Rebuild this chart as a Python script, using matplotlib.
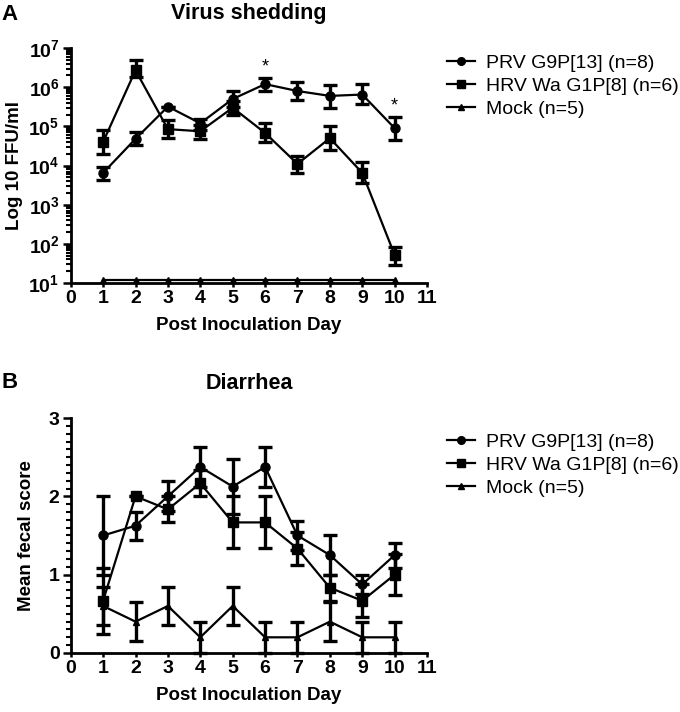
import numpy as np
import matplotlib
matplotlib.use('Agg')
import matplotlib.pyplot as plt
from matplotlib.lines import Line2D
from matplotlib.ticker import FixedLocator, MultipleLocator, LogLocator, FuncFormatter, NullFormatter

plt.rcParams['font.family'] = ['Liberation Sans', 'DejaVu Sans']
plt.rcParams['mathtext.fontset'] = 'custom'
plt.rcParams['mathtext.rm'] = 'Liberation Sans:bold'
plt.rcParams['mathtext.bf'] = 'Liberation Sans:bold'

days = [1, 2, 3, 4, 5, 6, 7, 8, 9, 10]
labels = ['PRV G9P[13] (n=8)', 'HRV Wa G1P[8] (n=6)', 'Mock (n=5)']

# A: virus shedding, FFU/ml (mean, lower / upper error bar ends)
prv_ffu = [6.5e3, 4.8e4, 3.2e5, 1.2e5, 5e5, 1.2e6, 8e5, 6e5, 6.5e5, 9e4]
prv_ffu_lo = [4.2e3, 3.3e4, 3.2e5, 8e4, 3.2e5, 8e5, 4.7e5, 3e5, 3.7e5, 4.5e4]
prv_ffu_hi = [9e3, 7e4, 3.2e5, 1.5e5, 8e5, 1.7e6, 1.35e6, 1.15e6, 1.2e6, 1.75e5]
hrv_ffu = [4e4, 2.7e6, 8.5e4, 7.5e4, 3e5, 6.8e4, 1.1e4, 5e4, 6.5e3, 52]
hrv_ffu_lo = [2e4, 1.8e6, 5e4, 4.8e4, 1.9e5, 4e4, 6.5e3, 2.5e4, 3.6e3, 29]
hrv_ffu_hi = [8e4, 5e6, 1.45e5, 1.1e5, 4.5e5, 1.2e5, 1.8e4, 1e5, 1.25e4, 83]
mock_ffu = [12] * 10
signif_days = [6, 10]

# B: diarrhea, mean fecal score +/- SEM
prv_score = [1.5, 1.625, 2.0, 2.375, 2.125, 2.375, 1.5, 1.25, 0.875, 1.25]
prv_sem = [0.5, 0.18, 0.19, 0.26, 0.35, 0.26, 0.19, 0.25, 0.125, 0.16]
hrv_score = [0.667, 2.0, 1.833, 2.167, 1.667, 1.667, 1.333, 0.833, 0.667, 1.0]
hrv_sem = [0.42, 0.0, 0.167, 0.167, 0.333, 0.333, 0.21, 0.167, 0.21, 0.26]
mock_score = [0.6, 0.4, 0.6, 0.2, 0.6, 0.2, 0.2, 0.4, 0.2, 0.2]
mock_sem = [0.245, 0.245, 0.245, 0.2, 0.245, 0.2, 0.2, 0.245, 0.2, 0.2]

markers = ['o', 's', '^']
msizes = [6.5, 6.5, 5]

fig = plt.figure(figsize=(6.8, 7.12), dpi=100)
axA = fig.add_axes([0.104, 0.6025, 0.524, 0.330])
axB = fig.add_axes([0.104, 0.0829, 0.524, 0.330])


def style_axes(ax):
    for s in ['top', 'right']:
        ax.spines[s].set_visible(False)
    for s in ['left', 'bottom']:
        ax.spines[s].set_linewidth(2)
    ax.set_xlim(0, 11)
    ax.xaxis.set_major_locator(FixedLocator(range(12)))
    ax.tick_params(axis='both', which='major', direction='out', width=1.8,
                   labelsize=14, pad=2)
    ax.tick_params(axis='x', which='major', length=3)
    ax.tick_params(axis='y', which='major', length=6)
    ax.tick_params(axis='y', which='minor', direction='out', length=3.5, width=1.5)
    ax.tick_params(axis='x', which='minor', length=0)
    for lab in ax.get_xticklabels() + ax.get_yticklabels():
        lab.set_fontweight('bold')
    ax.set_xlabel('Post Inoculation Day', fontsize=13.5, fontweight='bold', labelpad=7)


def draw_series(ax, y, yerr, i):
    ax.errorbar(days, y, yerr=yerr, color='black', marker=markers[i], ms=msizes[i],
                lw=1.6, elinewidth=2.4, capsize=5, capthick=2.4,
                clip_on=False, zorder=3)


# panel A
lo = lambda m, l: np.array(m) - np.array(l)
hi = lambda m, h: np.array(h) - np.array(m)
draw_series(axA, prv_ffu, [lo(prv_ffu, prv_ffu_lo), hi(prv_ffu, prv_ffu_hi)], 0)
draw_series(axA, hrv_ffu, [lo(hrv_ffu, hrv_ffu_lo), hi(hrv_ffu, hrv_ffu_hi)], 1)
axA.plot(days, mock_ffu, color='black', marker='^', ms=4, lw=1.6,
         clip_on=False, zorder=3)
axA.set_yscale('log')
axA.set_ylim(10, 1e7)
axA.yaxis.set_major_locator(LogLocator(base=10, numticks=10))
axA.yaxis.set_minor_locator(LogLocator(base=10, subs=np.arange(2, 10), numticks=20))
axA.yaxis.set_minor_formatter(NullFormatter())
axA.yaxis.set_major_formatter(FuncFormatter(lambda v, p: r'$\mathbf{10^{%d}}$' % round(np.log10(v))))
style_axes(axA)
axA.set_ylabel('Log 10 FFU/ml', fontsize=13.5, fontweight='bold', labelpad=4)
axA.set_title('Virus shedding', fontsize=15.5, fontweight='bold', pad=21)
for d in signif_days:
    k = days.index(d)
    axA.annotate('*', xy=(d, prv_ffu_hi[k]), xytext=(0, 2), textcoords='offset points',
                 ha='center', va='bottom', fontsize=13)

# panel B
draw_series(axB, prv_score, prv_sem, 0)
draw_series(axB, hrv_score, hrv_sem, 1)
draw_series(axB, mock_score, mock_sem, 2)
axB.set_ylim(0, 3)
axB.yaxis.set_major_locator(MultipleLocator(1))
axB.yaxis.set_minor_locator(MultipleLocator(0.1))
style_axes(axB)
axB.set_ylabel('Mean fecal score', fontsize=13.5, fontweight='bold', labelpad=10)
axB.set_title('Diarrhea', fontsize=15.5, fontweight='bold', pad=21)

handles = [Line2D([], [], color='black', marker=markers[i], ms=msizes[i] - 1, lw=1.6)
           for i in range(3)]
for ax, top in [(axA, 0.924), (axB, 0.392)]:
    ax.legend(handles, labels, loc='upper left', bbox_to_anchor=(0.658, top),
              bbox_transform=fig.transFigure, frameon=False, fontsize=14,
              handlelength=1.4, handletextpad=0.6, labelspacing=0.28,
              borderpad=0, borderaxespad=0)

fig.text(0.002, 0.995, 'A', fontsize=16, fontweight='bold', va='top', ha='left')
fig.text(0.002, 0.477, 'B', fontsize=16, fontweight='bold', va='top', ha='left')

fig.savefig('out.png', dpi=100)
